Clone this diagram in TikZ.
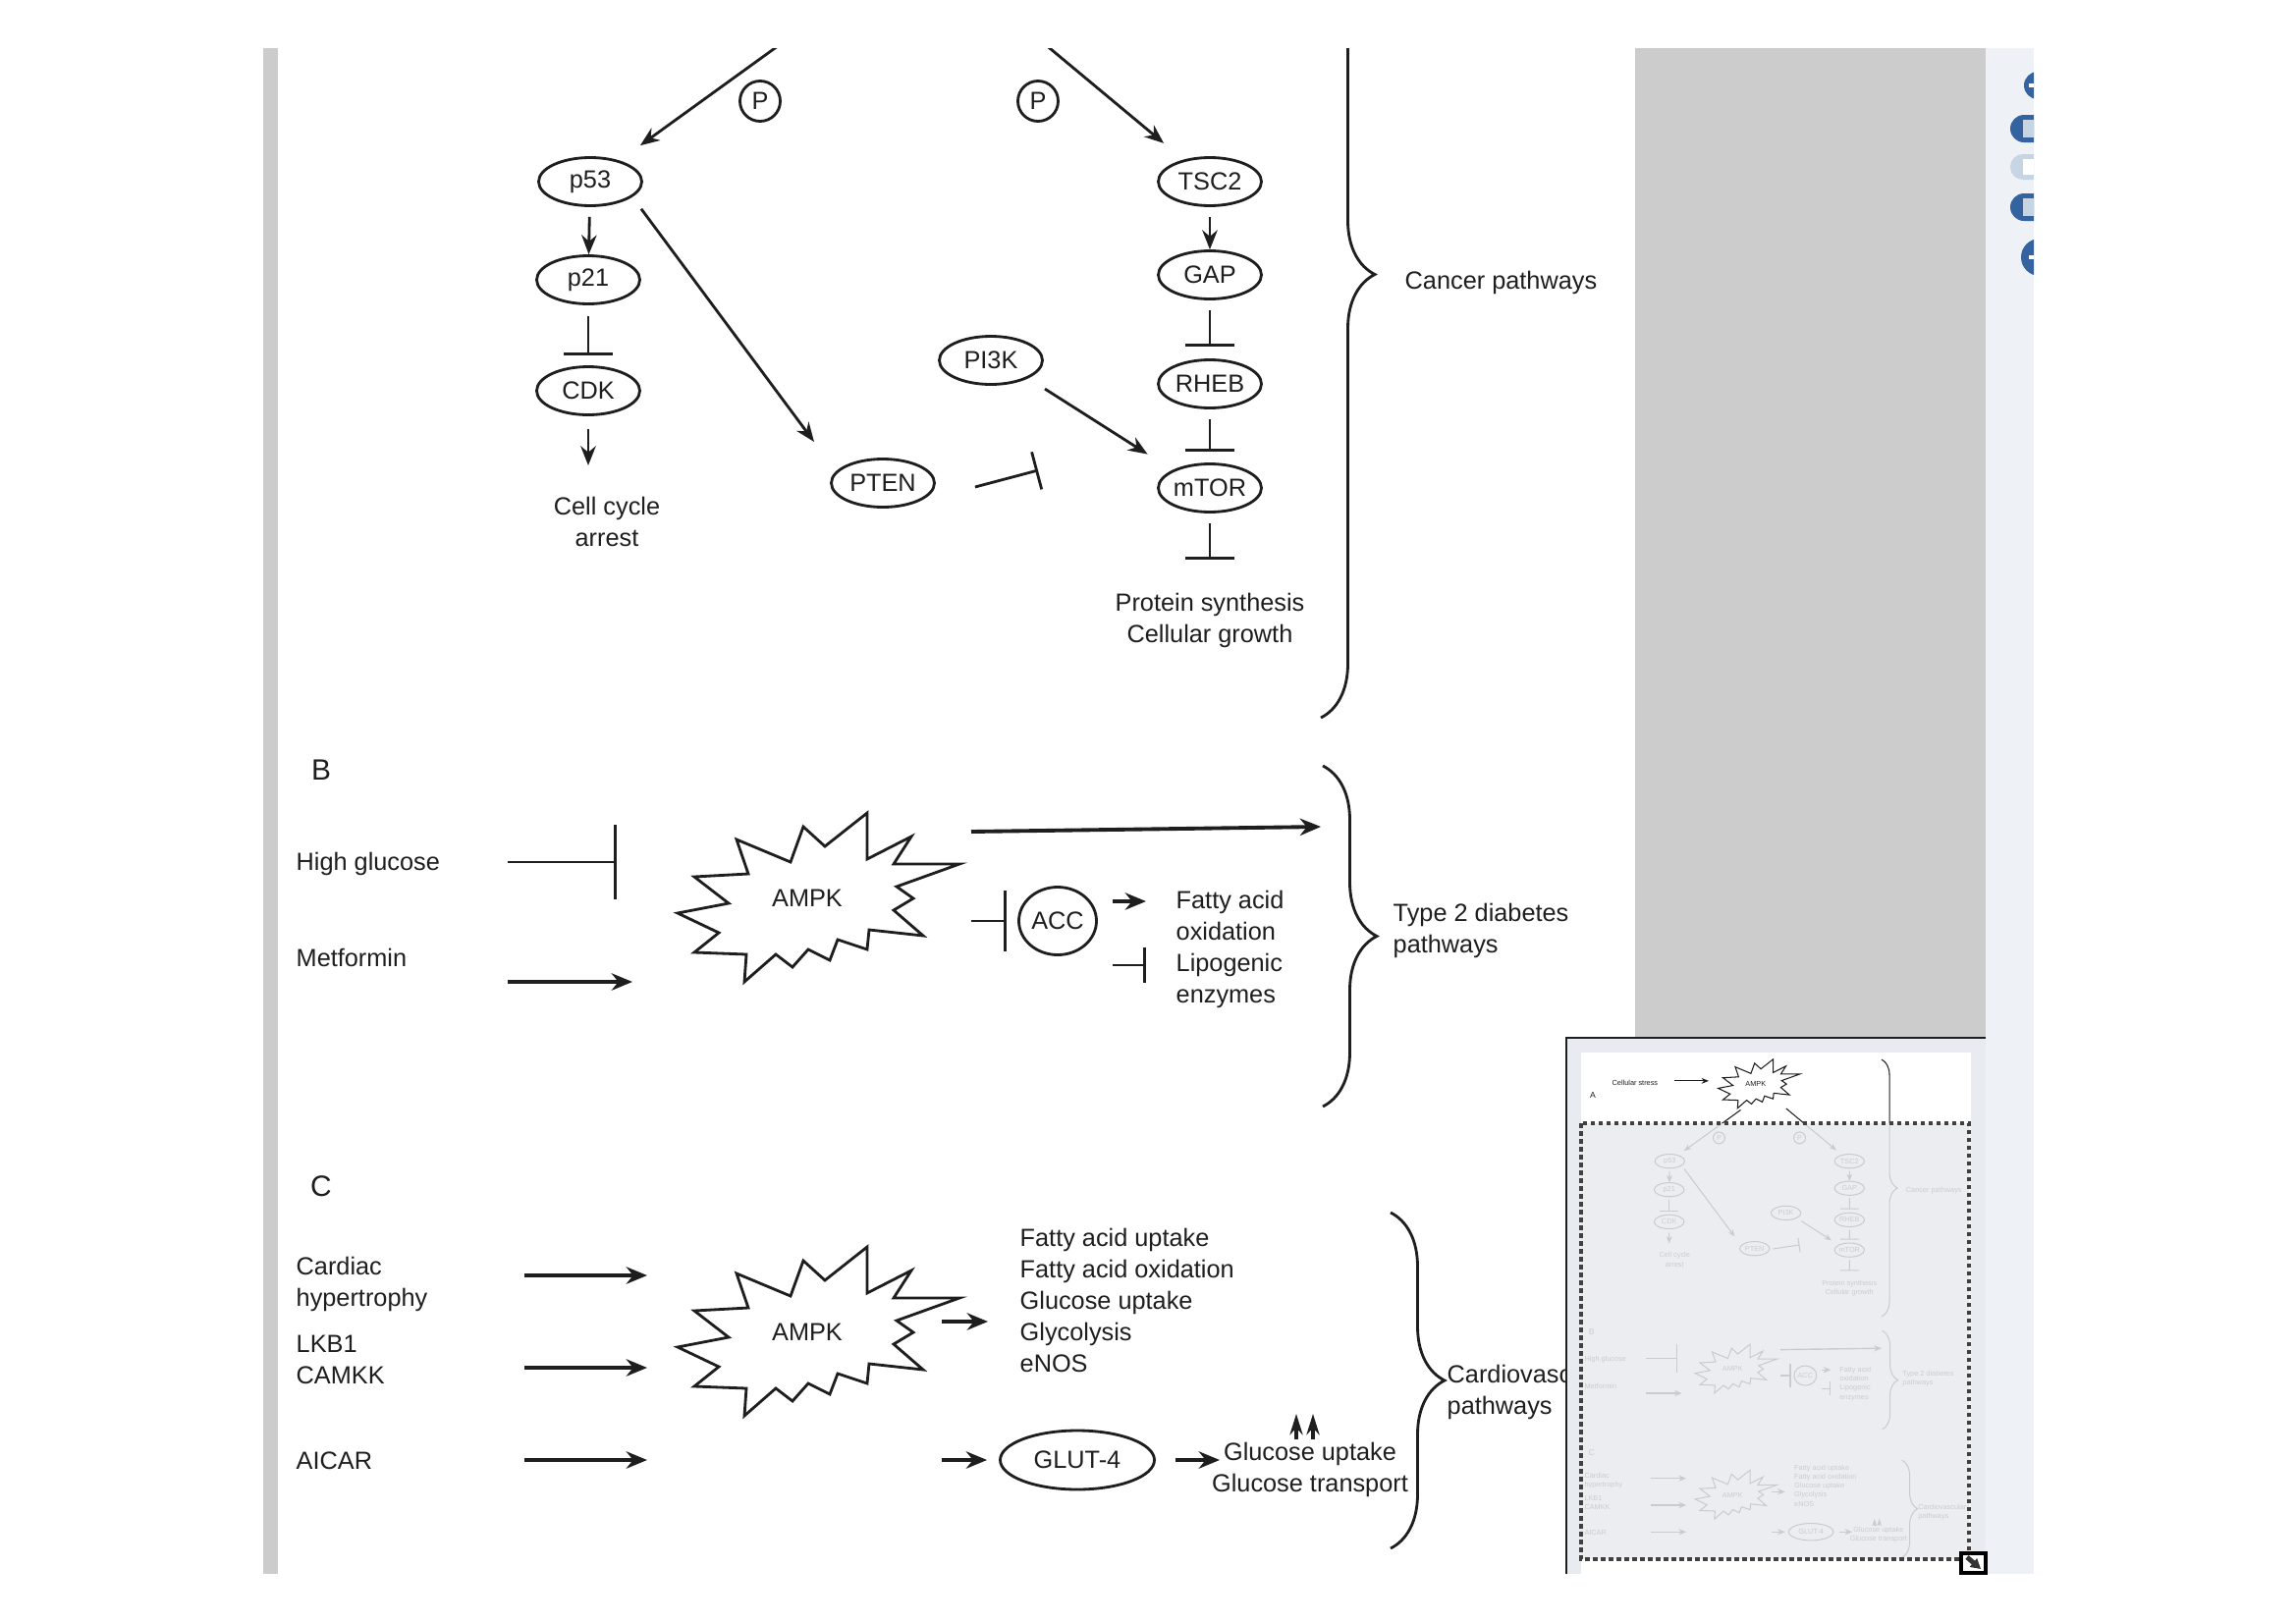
\documentclass[tikz,border=0pt]{standalone}
\usepackage{fontspec}
\setmainfont{Liberation Sans}
\usetikzlibrary{arrows.meta,shapes.geometric,decorations.pathreplacing}

\definecolor{panelgray}{HTML}{CCCCCC}
\definecolor{stripbg}{HTML}{EEF1F6}
\definecolor{btnblue}{HTML}{3563A0}
\definecolor{btnlight}{HTML}{C7D4E4}
\definecolor{thumbbg}{HTML}{E8EBEF}
\definecolor{ink}{HTML}{1E1E1E}

\newcommand{\lblfont}{\fontsize{7.2}{9.1}\selectfont}
\newcommand{\secfont}{\fontsize{8.5}{10}\selectfont}
\newlength{\su}
\setlength{\su}{1mm}

\tikzset{
  wire/.style={line width=0.8pt, draw=ink},
  fat/.style={line width=1.1pt, draw=ink},
  arr/.style={wire, -{Stealth[length=0pt 7, width=0pt 5.5]}},
  fatarr/.style={fat, -{Stealth[length=0pt 5.5, width=0pt 4.5]}},
  inh/.style={wire, -{Bar[width=0pt 18]}},
  lbl/.style={inner sep=0pt, font=\lblfont, text=ink},
  prot/.style={ellipse, wire, inner sep=0pt, minimum width=10.5mm, minimum height=4.9mm, font=\lblfont, text=ink},
  phos/.style={circle, wire, inner sep=0pt, minimum size=4.1mm, font=\lblfont, text=ink},
  brc/.style={wire, decorate, decoration={brace, amplitude=5.5\su}},
  burst/.pic={
    \draw[wire, fill=white] (-132,15) -- (-80,5) -- (-115,-22) -- (-60,-25) -- (-72,-60) -- (-17,-37)
      -- (-4,-73) -- (18,-53) -- (61,-87) -- (61,-40) -- (106,-63) -- (88,-35) -- (155,-35)
      -- (91,-12) -- (108,0) -- (88,12) -- (118,38) -- (63,32) -- (61,52) -- (31,42) -- (23,63)
      -- (1,52) -- (-15,70) -- (-32,57) -- (-64,85) -- (-62,57) -- (-115,55) -- (-90,35) -- cycle;
  }
}

% top of panel A (only seen in the overview)
\newcommand{\ampkhead}{%
  \node[lbl, font=\secfont] (labA) at (331,-45) {A};
  \node[lbl] (stress) at (479,-90) {Cellular stress};
  \pic at (903,-86) {burst};
  \node[lbl] (ampkA) at (903,-86) {AMPK};
  \coordinate (stressOut) at (617,-97);
  \coordinate (ampkAin) at (738,-97);
  \draw[arr] (stressOut) -- (ampkAin);
}

% the rest of the figure, in pixel units
\newcommand{\ampkfig}{%
  % A: cancer pathways
  \coordinate (ampkOutL) at (850,5);
  \coordinate (ampkOutR) at (1010,0);
  \node[phos] (phosL) at (774,103) {P};
  \node[phos] (phosR) at (1057,103) {P};
  \node[prot] (p53) at (601,185) {p53};
  \node[prot] (p21) at (599,285) {p21};
  \node[prot] (cdk) at (599,398) {CDK};
  \node[prot] (pten) at (899,492) {PTEN};
  \node[prot] (pi3k) at (1009,367) {PI3K};
  \node[prot] (tsc2) at (1232,185) {TSC2};
  \node[prot] (gap) at (1232,280) {GAP};
  \node[prot] (rheb) at (1232,391) {RHEB};
  \node[prot] (mtor) at (1232,497) {mTOR};
  \node[lbl, align=center] (arrest) at (618,531) {Cell cycle\\arrest};
  \node[lbl, align=center] (growth) at (1232,632) {Protein synthesis\\Cellular growth};
  \coordinate (cdkOut) at (599,474);
  \coordinate (mtorOut) at (1232,570);
  \coordinate (ptenIn) at (829,450);
  \coordinate (ptenBar) at (1057,479);
  \draw[arr, shorten >=2.6\su] (ampkOutL) -- (p53);
  \draw[arr, shorten >=2.6\su] (ampkOutR) -- (tsc2);
  \draw[arr, shorten <=1\su] (p53) -- (p21);
  \draw[inh, shorten <=1.1\su, shorten >=1\su] (p21) -- (cdk);
  \draw[arr, shorten <=1.3\su] (cdk) -- (cdkOut);
  \draw[arr, shorten <=1.5\su] (p53.-20) -- (ptenIn);
  \draw[wire, -{Bar[width=0pt 14]}] ([xshift=4\su, yshift=-0.4\su]pten.east) -- (ptenBar);
  \draw[arr, shorten <=2\su, shorten >=3\su] (pi3k.south east) -- (mtor.north west);
  \draw[arr, shorten <=1\su] (tsc2) -- (gap);
  \draw[inh, shorten <=1\su, shorten >=1.2\su] (gap) -- (rheb);
  \draw[inh, shorten <=1\su, shorten >=1.1\su] (rheb) -- (mtor);
  \draw[inh, shorten <=1\su] (mtor) -- (mtorOut);
  \draw[brc] (1345,-172) -- (1345,731);
  \node[lbl, anchor=west] (cancer) at (1430,288) {Cancer pathways};
  % B: type 2 diabetes
  \node[lbl, font=\secfont] (labB) at (327,784) {B};
  \node[lbl, anchor=west] (hg) at (301,880) {High glucose};
  \node[lbl, anchor=west] (met) at (301,975) {Metformin};
  \pic at (822,915) {burst};
  \node[lbl] (ampkB) at (822,915) {AMPK};
  \node[ellipse, wire, inner sep=0pt, minimum width=7.9mm, minimum height=6.9mm, font=\lblfont, text=ink] (acc) at (1077,938) {ACC};
  \node[lbl, anchor=west, align=left] (fao) at (1197,967) {Fatty acid\\oxidation\\Lipogenic\\enzymes};
  \node[lbl, anchor=west, align=left] (diab) at (1418,948) {Type 2 diabetes\\pathways};
  \coordinate (hgOut) at (517,878);
  \coordinate (hgBar) at (628,878);
  \coordinate (metOut) at (517,1000);
  \coordinate (metIn) at (644,1000);
  \coordinate (ampkBout) at (989,847);
  \coordinate (diabIn) at (1345,842);
  \coordinate (accOut) at (989,938);
  \coordinate (faoOut) at (1133,918);
  \coordinate (faoIn) at (1167,918);
  \coordinate (lipOut) at (1133,983);
  \coordinate (lipBar) at (1167,983);
  \draw[wire, -{Bar[width=0pt 27]}] (hgOut) -- (hgBar);
  \draw[fatarr] (metOut) -- (metIn);
  \draw[fatarr] (ampkBout) -- (diabIn);
  \draw[wire, -{Bar[width=0pt 22]}, shorten >=1.1\su] (accOut) -- (acc.west);
  \draw[fatarr] (faoOut) -- (faoIn);
  \draw[wire, -{Bar[width=0pt 13]}] (lipOut) -- (lipBar);
  \draw[brc] (1347,780) -- (1347,1127);
  % C: cardiovascular
  \node[lbl, font=\secfont] (labC) at (327,1208) {C};
  \node[lbl, anchor=west, align=left] (hyper) at (301,1308) {Cardiac\\hypertrophy};
  \node[lbl, anchor=west, align=left] (lkb) at (301,1385) {LKB1\\CAMKK};
  \node[lbl, anchor=west] (aicar) at (301,1488) {AICAR};
  \pic at (822,1357) {burst};
  \node[lbl] (ampkC) at (822,1357) {AMPK};
  \node[lbl, anchor=west, align=left] (effects) at (1038,1324) {Fatty acid uptake\\Fatty acid oxidation\\Glucose uptake\\Glycolysis\\eNOS};
  \node[ellipse, wire, inner sep=0pt, minimum width=15.7mm, minimum height=6mm, font=\lblfont, text=ink] (glut) at (1097,1487) {GLUT-4};
  \node[lbl, align=center] (gluc) at (1334,1497) {Glucose uptake\\Glucose transport};
  \node[lbl, anchor=west, align=left] (cardio) at (1473,1418) {Cardiovascular\\pathways};
  \foreach \y/\n in {1299/1, 1393/2, 1487/3} {
    \coordinate (in\n Out) at (534,\y);
    \coordinate (in\n In) at (659,\y);
    \draw[fatarr] (in\n Out) -- (in\n In);
  }
  \coordinate (effOut) at (959,1346);
  \coordinate (effIn) at (1006,1346);
  \coordinate (glutOut) at (959,1487);
  \coordinate (glucIn) at (1242,1487);
  \draw[fatarr] (effOut) -- (effIn);
  \draw[fatarr, shorten >=1.2\su] (glutOut) -- (glut.west);
  \draw[fatarr, shorten <=2\su] (glut.east) -- (glucIn);
  \foreach \x/\n in {1320/1, 1337/2} {
    \coordinate (up\n a) at (\x,1466);
    \coordinate (up\n b) at (\x,1440);
    \draw[fat, -{Stealth[length=0pt 5.5, width=0pt 3.4]}] (up\n a) -- (up\n b);
  }
  \draw[brc] (1416,1235) -- (1416,1577);
}

\begin{document}
\begin{tikzpicture}[x=0.1mm, y=-0.1mm]
  \useasboundingbox (0,0) rectangle (2338,1652);
  \fill[white] (0,0) rectangle (2338,1652);
  % viewer frame
  \fill[panelgray] (268,49) rectangle (283,1603);
  \fill[panelgray] (1665,49) rectangle (2022,1603);
  \fill[stripbg] (2022,49) rectangle (2071,1603);
  % zoom buttons
  \begin{scope}
    \clip (2022,49) rectangle (2071,1603);
    \fill[btnblue] (2075,87) circle (14);
    \fill[white] (2066,85) rectangle (2085,89);
    \fill[btnblue, rounded corners=1.4mm] (2047,117) rectangle (2100,145);
    \fill[btnlight] (2060,122) rectangle (2100,140);
    \fill[btnlight, rounded corners=1.3mm] (2047,157) rectangle (2100,183);
    \fill[white] (2060,162) rectangle (2100,178);
    \fill[btnblue, rounded corners=1.4mm] (2047,197) rectangle (2100,225);
    \fill[btnlight] (2060,202) rectangle (2100,220);
    \fill[btnblue] (2077,262) circle (19);
    \fill[white] (2066,260) rectangle (2090,264);
  \end{scope}
  % main view
  \begin{scope}
    \clip (283,49) rectangle (1665,1603);
    \ampkfig
  \end{scope}
  % overview thumbnail
  \fill[thumbbg] (1595,1057) rectangle (2022,1603);
  \draw[line width=0.8pt, draw=ink] (1595,1603) -- (1595,1057) -- (2022,1057);
  \begin{scope}
    \clip (1610,1072) rectangle (2007,1603);
    \fill[white] (1610,1072) rectangle (2007,1603);
    \begin{scope}[shift={(1526,1129)}, scale=0.29, transform shape,
        wire/.style={line width=0.3pt, draw=ink}, fat/.style={line width=0.4pt, draw=ink},
        brc/.style={wire, decorate, decoration={brace, amplitude=1.6mm}}]
      \setlength{\su}{0.29mm}
      \ampkhead
      \ampkfig
    \end{scope}
  \end{scope}
  \fill[thumbbg, opacity=0.85] (1610,1144) rectangle (2005,1588);
  \draw[line width=1.1pt, draw=black!75, dash pattern=on 0.45mm off 0.35mm] (1610,1144) rectangle (2005,1588);
  \draw[line width=0.9pt, fill=white] (1997,1582) rectangle (2022,1602);
  \draw[line width=1.4pt, draw=black!80, -{Triangle[length=1mm, width=1.1mm]}] (2003,1586) -- (2017,1598);
\end{tikzpicture}
\end{document}
